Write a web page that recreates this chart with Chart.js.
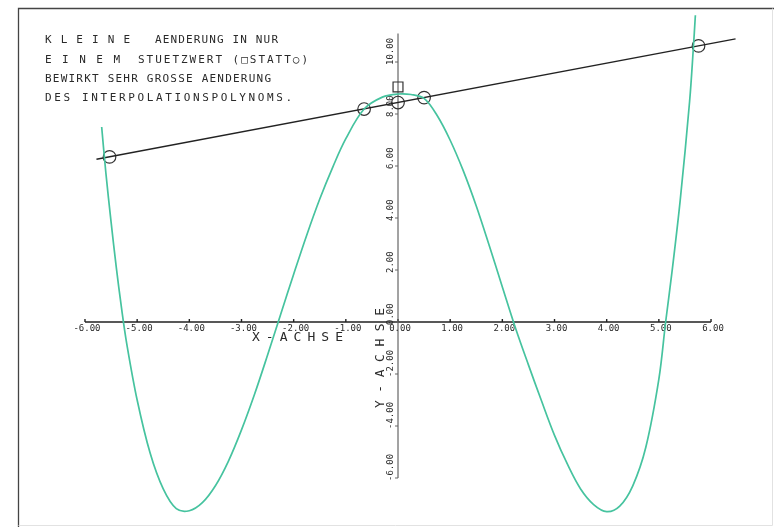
<!DOCTYPE html>
<html>
<head>
<meta charset="utf-8">
<title>Interpolationspolynom</title>
<script src="https://cdn.jsdelivr.net/npm/chart.js@4"></script>
<style>
    body { margin: 0; background: #ffffff; }
    #plot { display: block; }
</style>
</head>
<body>
<canvas id="plot" width="774" height="527"></canvas>
<script>
// Axis ticks and their labels
const xTicks = [-6, -5, -4, -3, -2, -1, 0, 1, 2, 3, 4, 5, 6];
const xTickLabels = ['-6.00', '-5.00', '-4.00', '-3.00', '-2.00', '-1.00', '0.00', '1.00', '2.00', '3.00', '4.00', '5.00', '6.00'];
const yTicks = [-6, -4, -2, 0, 2, 4, 6, 8, 10];
const yTickLabels = ['-6.00', '-4.00', '-2.00', '0.00', '2.00', '4.00', '6.00', '8.00', '10.00'];

// Support points (circles) and the straight interpolant through them
const nodeX = [-5.53, -0.65, 0, 0.5, 5.76];
const nodeY = [6.35, 8.19, 8.44, 8.63, 10.62];
const lineX = [-5.78, 6.47];
const lineY = [6.26, 10.89];

// The one changed support value (square)
const changedX = [0];
const changedY = [9.04];

// Interpolation polynomial after the change
const curveX = [-5.68, -5.6, -5.5, -5.4, -5.3, -5.2, -5.0, -4.75, -4.5, -4.25, -4.0, -3.75, -3.5, -3.25, -3.0, -2.75, -2.5, -2.25, -2.0, -1.75, -1.5, -1.25, -1.0, -0.65, -0.3, 0, 0.25, 0.5, 0.75, 1.0, 1.25, 1.5, 1.75, 2.0, 2.25, 2.5, 2.75, 3.0, 3.25, 3.5, 3.75, 4.0, 4.25, 4.5, 4.75, 5.0, 5.13, 5.25, 5.41, 5.59, 5.66, 5.7];
const curveY = [7.5, 5.74, 3.85, 2.1, 0.54, -0.83, -3.0, -5.05, -6.42, -7.18, -7.26, -6.95, -6.3, -5.35, -4.15, -2.78, -1.27, 0.29, 1.84, 3.34, 4.73, 5.96, 7.05, 8.19, 8.65, 8.77, 8.75, 8.6, 7.94, 6.99, 5.82, 4.46, 2.93, 1.35, -0.22, -1.65, -3.03, -4.36, -5.48, -6.42, -7.02, -7.29, -7.08, -6.3, -4.82, -2.2, 0, 1.9, 4.7, 8.5, 10.5, 11.8];

const titleLines = [
    { parts: [['K L E I N E', 45, 130], ['AENDERUNG IN NUR', 155, 278]], y: 40 },
    { parts: [['E I N E M', 45, 120], ['STUETZWERT (\u25A1STATT\u25CB)', 138, 308]], y: 60 },
    { parts: [['BEWIRKT SEHR GROSSE AENDERUNG', 45, 271]], y: 79 },
    { parts: [['DES INTERPOLATIONSPOLYNOMS.', 45, 292]], y: 98 }
];

const toPoints = (xs, ys) => xs.map((x, i) => ({ x: x, y: ys[i] }));

// draw a string char by char so it spans x0..x1 (plotter style fixed pitch)
function drawSpaced(ctx, text, x0, x1, y) {
    const chars = Array.from(text);
    const cw = ctx.measureText('M').width;
    const pitch = chars.length > 1 ? (x1 - x0 - cw) / (chars.length - 1) : 0;
    ctx.textAlign = 'center';
    ctx.textBaseline = 'middle';
    chars.forEach((c, i) => {
        if (c !== ' ') ctx.fillText(c, x0 + cw / 2 + i * pitch, y);
    });
}

const axesPlugin = {
    id: 'plotterAxes',
    beforeDatasetsDraw(chart) {
        const ctx = chart.ctx;
        const xs = chart.scales.x;
        const ys = chart.scales.y;
        const x0 = xs.getPixelForValue(0);
        const y0 = ys.getPixelForValue(0);

        ctx.save();

        // frame
        ctx.strokeStyle = '#444';
        ctx.lineWidth = 1.3;
        ctx.beginPath();
        ctx.moveTo(18.5, 527);
        ctx.lineTo(18.5, 8.5);
        ctx.lineTo(774, 8.5);
        ctx.stroke();
        ctx.strokeStyle = '#e2e2e2';
        ctx.lineWidth = 1;
        ctx.beginPath();
        ctx.moveTo(772.5, 8.5);
        ctx.lineTo(772.5, 525.5);
        ctx.lineTo(18.5, 525.5);
        ctx.stroke();

        // x axis
        ctx.strokeStyle = '#222';
        ctx.lineWidth = 1.4;
        ctx.beginPath();
        ctx.moveTo(xs.getPixelForValue(xTicks[0]), y0);
        ctx.lineTo(xs.getPixelForValue(xTicks[xTicks.length - 1]), y0);
        xTicks.forEach(v => {
            const px = xs.getPixelForValue(v);
            ctx.moveTo(px, y0);
            ctx.lineTo(px, y0 - 3);
        });
        ctx.stroke();

        // y axis
        ctx.strokeStyle = '#666';
        ctx.lineWidth = 1.2;
        ctx.beginPath();
        ctx.moveTo(x0, ys.getPixelForValue(11.1));
        ctx.lineTo(x0, ys.getPixelForValue(yTicks[0]));
        yTicks.forEach(v => {
            const py = ys.getPixelForValue(v);
            ctx.moveTo(x0, py);
            ctx.lineTo(x0 - 3, py);
        });
        ctx.stroke();

        ctx.fillStyle = '#2a2a2a';

        // x tick labels
        ctx.font = '9px "DejaVu Sans Mono"';
        ctx.textAlign = 'center';
        ctx.textBaseline = 'middle';
        xTicks.forEach((v, i) => {
            ctx.fillText(xTickLabels[i], xs.getPixelForValue(v) + 2, y0 + 7);
        });

        // y tick labels, rotated, reading upwards from the tick
        yTicks.forEach((v, i) => {
            ctx.save();
            ctx.translate(x0 - 7, ys.getPixelForValue(v) + 3);
            ctx.rotate(-Math.PI / 2);
            ctx.textAlign = 'left';
            ctx.textBaseline = 'middle';
            ctx.fillText(yTickLabels[i], 0, 0);
            ctx.restore();
        });

        // axis titles
        ctx.font = '13px "DejaVu Sans Mono"';
        drawSpaced(ctx, 'X - A C H S E', 252, 343, y0 + 16);
        ctx.save();
        ctx.translate(x0 - 17, 408);
        ctx.rotate(-Math.PI / 2);
        drawSpaced(ctx, 'Y - A C H S E', 0, 100, 0);
        ctx.restore();

        // caption block
        ctx.font = '11px "DejaVu Sans Mono"';
        titleLines.forEach(line => {
            line.parts.forEach(p => drawSpaced(ctx, p[0], p[1], p[2], line.y));
        });

        ctx.restore();
    }
};

new Chart(document.getElementById('plot'), {
    type: 'scatter',
    data: {
        datasets: [
            {
                label: 'Polynom',
                data: toPoints(curveX, curveY),
                showLine: true,
                borderColor: '#46c39f',
                borderWidth: 1.7,
                pointRadius: 0,
                tension: 0.35,
                clip: false
            },
            {
                label: 'Gerade',
                data: toPoints(lineX, lineY),
                showLine: true,
                borderColor: '#222',
                borderWidth: 1.3,
                pointRadius: 0,
                clip: false
            },
            {
                label: 'Stuetzwerte',
                data: toPoints(nodeX, nodeY),
                showLine: false,
                pointStyle: 'circle',
                pointRadius: 6.3,
                backgroundColor: 'rgba(0,0,0,0)',
                borderColor: '#333',
                borderWidth: 1.2,
                clip: false
            },
            {
                label: 'Geaendert',
                data: toPoints(changedX, changedY),
                showLine: false,
                pointStyle: 'rect',
                pointRadius: 7,
                backgroundColor: 'rgba(0,0,0,0)',
                borderColor: '#333',
                borderWidth: 1.2,
                clip: false
            }
        ]
    },
    options: {
        responsive: false,
        animation: false,
        devicePixelRatio: 1,
        layout: { autoPadding: false, padding: { left: 58.9, right: 10.8, top: 10, bottom: 2.2 } },
        scales: {
            x: { type: 'linear', min: -6.5, max: 7, display: false },
            y: { type: 'linear', min: -7.8, max: 12, display: false }
        },
        plugins: {
            legend: { display: false },
            tooltip: { enabled: false }
        }
    },
    plugins: [axesPlugin]
});
</script>
</body>
</html>
